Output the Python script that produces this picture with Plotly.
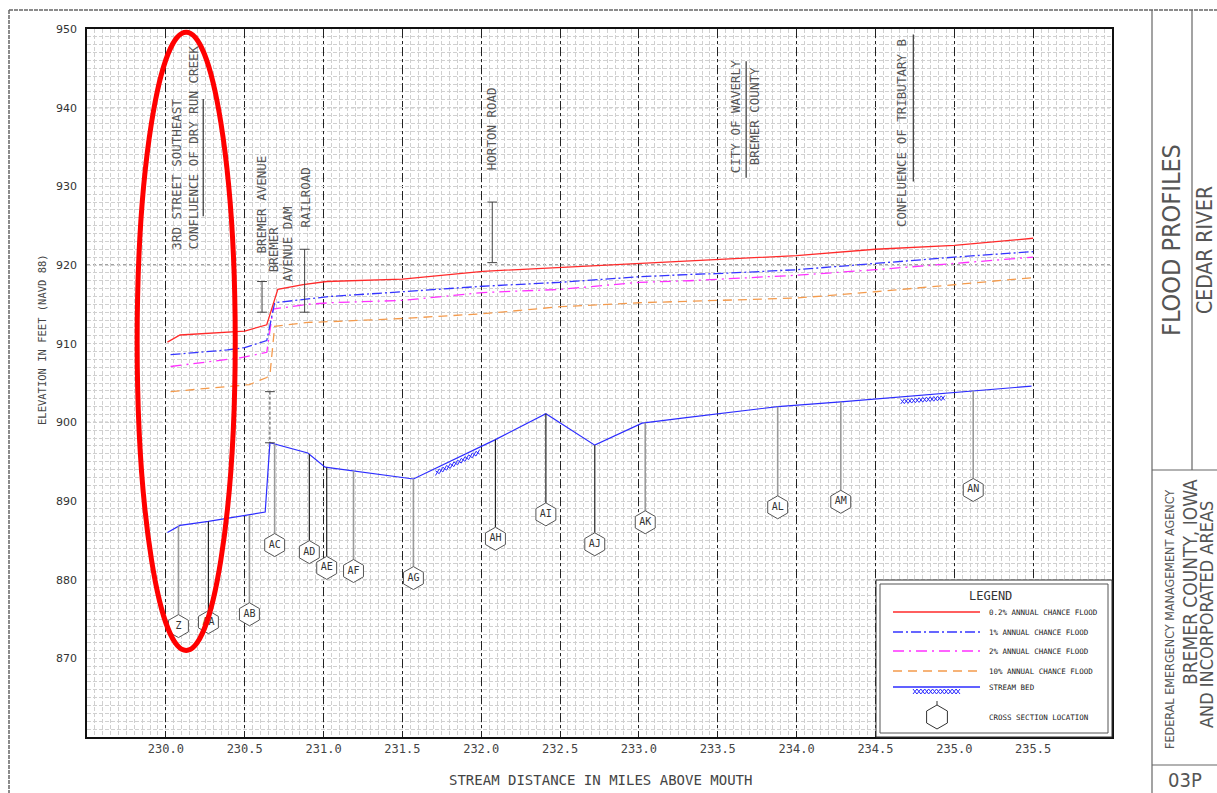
import numpy as np
import plotly.graph_objects as go

# ---------------- data ----------------
x_tick_vals = [230.0, 230.5, 231.0, 231.5, 232.0, 232.5, 233.0, 233.5, 234.0, 234.5, 235.0, 235.5]
x_tick_text = ["230.0", "230.5", "231.0", "231.5", "232.0", "232.5", "233.0", "233.5", "234.0", "234.5", "235.0", "235.5"]
y_tick_vals = [870, 880, 890, 900, 910, 920, 930, 940, 950]

# 0.2% annual chance flood
f02_x = [230.01, 230.09, 230.50, 230.64, 230.71, 230.87, 231.02, 231.50, 232.01, 232.50, 233.00, 233.32, 233.49, 234.00, 234.50, 235.00, 235.50]
f02_y = [910.2, 911.1, 911.6, 912.4, 916.9, 917.5, 917.9, 918.2, 919.2, 919.7, 920.2, 920.5, 920.7, 921.2, 922.0, 922.5, 923.4]
# 1% annual chance flood
f1_x = [230.03, 230.39, 230.50, 230.64, 230.69, 230.90, 231.04, 231.50, 232.01, 232.50, 233.00, 233.32, 233.49, 234.00, 234.50, 235.00, 235.50]
f1_y = [908.6, 909.2, 909.5, 910.4, 915.2, 915.7, 916.0, 916.6, 917.3, 917.8, 918.5, 918.8, 918.9, 919.4, 920.2, 921.0, 921.7]
# 2% annual chance flood
f2_x = [230.03, 230.47, 230.64, 230.68, 230.90, 231.04, 231.50, 232.01, 232.50, 233.00, 233.32, 234.00, 234.50, 235.00, 235.50]
f2_y = [907.1, 908.2, 908.9, 914.4, 915.0, 915.2, 915.5, 916.5, 916.9, 917.8, 918.0, 918.7, 919.4, 920.2, 921.0]
# 10% annual chance flood
f10_x = [230.03, 230.53, 230.64, 230.66, 230.69, 230.90, 231.04, 231.50, 232.01, 232.50, 233.00, 233.32, 234.00, 234.50, 235.00, 235.50]
f10_y = [903.9, 904.8, 905.7, 906.0, 912.2, 912.7, 912.8, 913.2, 913.8, 914.7, 915.2, 915.4, 915.8, 916.6, 917.5, 918.4]
# stream bed
bed_x = [230.01, 230.09, 230.27, 230.53, 230.63, 230.66, 230.90, 231.01, 231.19, 231.57, 232.09, 232.41, 232.72, 233.02, 233.30, 233.55, 233.88, 234.28, 235.12, 235.49]
bed_y = [886.0, 886.9, 887.4, 888.2, 888.6, 897.4, 896.1, 894.3, 893.8, 892.8, 897.8, 901.1, 897.1, 899.9, 900.6, 901.2, 902.0, 902.6, 904.0, 904.6]
# hatched reaches of the stream bed
hatch_start = [231.71, 234.66]
hatch_end = [231.99, 234.94]

# cross sections
xs_label = ["Z", "AA", "AB", "AC", "AD", "AE", "AF", "AG", "AH", "AI", "AJ", "AK", "AL", "AM", "AN"]
xs_mile = [230.08, 230.27, 230.53, 230.69, 230.91, 231.02, 231.19, 231.57, 232.09, 232.41, 232.72, 233.04, 233.88, 234.28, 235.12]
xs_symbol_elev = [874.1, 874.6, 875.6, 884.4, 883.5, 881.5, 881.1, 880.2, 885.2, 888.3, 884.5, 887.3, 889.2, 889.9, 891.4]
xs_dark = ["AA", "AD", "AE", "AH", "AI", "AJ"]

# structures (bridge / dam brackets)
struct_name = ["Bremer Avenue", "Bremer Avenue Dam", "Railroad", "Horton Road"]
struct_mile = [230.61, 230.66, 230.88, 232.07]
struct_top = [917.9, 903.9, 922.0, 928.0]
struct_bottom = [914.0, 897.4, 914.0, 920.3]

# profile labels
label_text = ["3RD STREET SOUTHEAST", "CONFLUENCE OF DRY RUN CREEK", "BREMER AVENUE", "BREMER",
              "AVENUE DAM", "RAILROAD", "HORTON ROAD", "CITY OF WAVERLY", "BREMER COUNTY",
              "CONFLUENCE OF TRIBUTARY B"]
label_mile = [230.065, 230.173, 230.604, 230.68, 230.77, 230.883, 232.07, 233.61, 233.73, 234.67]
label_elev = [931.5, 935.0, 927.7, 922.0, 922.6, 928.6, 937.3, 938.8, 938.9, 936.8]
underline_mile = [230.237, 233.68, 234.74]
underline_top = [941.1, 945.9, 949.3]
underline_bottom = [926.2, 931.1, 930.6]

legend_items = ["0.2% ANNUAL CHANCE FLOOD", "1% ANNUAL CHANCE FLOOD", "2% ANNUAL CHANCE FLOOD",
                "10% ANNUAL CHANCE FLOOD", "STREAM BED", "CROSS SECTION LOCATION"]

# ---------------- styling helpers ----------------
L, R, T, B = 87, 1112, 29, 737
W, H = 1217, 793


def px(x):
    return (x - L) / (R - L)


def py(y):
    return (B - y) / (B - T)


MONO = "DejaVu Sans Mono"
NARROW = "Liberation Sans Narrow, DejaVu Sans Condensed, DejaVu Sans"
RED = "#ff2a2a"
BLUE = "#3434ff"
MAG = "#ff30ff"
ORA = "#f39a4c"
BED = "#2c2cff"
GREY_TXT = "#555555"

fig = go.Figure()

# flood profiles
fig.add_trace(go.Scatter(x=f10_x, y=f10_y, mode="lines", line=dict(color=ORA, width=1.3, dash="9px,6px"), hoverinfo="skip"))
fig.add_trace(go.Scatter(x=f2_x, y=f2_y, mode="lines", line=dict(color=MAG, width=1.3, dash="11px,5px,2px,5px"), hoverinfo="skip"))
fig.add_trace(go.Scatter(x=f1_x, y=f1_y, mode="lines", line=dict(color=BLUE, width=1.3, dash="10px,3px,2px,3px"), hoverinfo="skip"))
fig.add_trace(go.Scatter(x=f02_x, y=f02_y, mode="lines", line=dict(color=RED, width=1.3), hoverinfo="skip"))

# stream bed
fig.add_trace(go.Scatter(x=bed_x, y=bed_y, mode="lines", line=dict(color=BED, width=1.2), hoverinfo="skip"))

# hatch on the stream bed
for a, b in zip(hatch_start, hatch_end):
    hx = np.linspace(a, b, 13)
    base = np.interp(hx, bed_x, bed_y)
    k = np.arange(len(hx)) % 2
    for phase in (0, 1):
        hy = base - 0.3 - 0.6 * ((k + phase) % 2)
        fig.add_trace(go.Scatter(x=hx, y=hy, mode="lines", line=dict(color=BED, width=1), hoverinfo="skip"))

# cross-section leader lines
hex_half = 1.45
for dark in (False, True):
    lx, ly = [], []
    for lab, xm, ye in zip(xs_label, xs_mile, xs_symbol_elev):
        if (lab in xs_dark) != dark:
            continue
        top = float(np.interp(xm, bed_x, bed_y))
        lx += [xm, xm, None]
        ly += [top, ye + hex_half, None]
    fig.add_trace(go.Scatter(x=lx, y=ly, mode="lines",
                             line=dict(color="#222222" if dark else "#9a9a9a", width=1.2 if dark else 1.6),
                             hoverinfo="skip"))

# cross-section hexagons
fig.add_trace(go.Scatter(x=xs_mile, y=xs_symbol_elev, mode="markers+text", text=xs_label,
                         textposition="middle center",
                         textfont=dict(family=MONO, size=10, color="#333333"),
                         marker=dict(symbol="hexagon", size=23, color="white",
                                     line=dict(color="#555555", width=1)),
                         hoverinfo="skip"))

# structure brackets
for nm, xm, t, bt in zip(struct_name, struct_mile, struct_top, struct_bottom):
    fig.add_trace(go.Scatter(x=[xm, xm], y=[t, bt], mode="lines+markers",
                             line=dict(color="#444444", width=1, dash="3px,2px" if "Dam" in nm else "solid"),
                             marker=dict(symbol="line-ew-open", size=7, line=dict(color="#444444", width=1)),
                             hoverinfo="skip"))

# underlines of labels
for xm, t, bt in zip(underline_mile, underline_top, underline_bottom):
    fig.add_trace(go.Scatter(x=[xm, xm], y=[t, bt], mode="lines", line=dict(color="#333333", width=1.2),
                             hoverinfo="skip"))

annotations = []
for txt, xm, ye in zip(label_text, label_mile, label_elev):
    annotations.append(dict(x=xm, y=ye, xref="x", yref="y", text=txt, showarrow=False, textangle=-90,
                            xanchor="center", yanchor="middle",
                            font=dict(family=MONO, size=12.5, color=GREY_TXT)))


def pannot(txt, xx, yy, size, family=MONO, color="#444444", angle=0, xanchor="center"):
    annotations.append(dict(x=px(xx), y=py(yy), xref="paper", yref="paper", text=txt, showarrow=False,
                            textangle=angle, xanchor=xanchor, yanchor="middle",
                            font=dict(family=family, size=size, color=color)))


# axis titles
pannot("ELEVATION IN FEET (NAVD 88)", 42, 340, 10.5, angle=-90)
pannot("STREAM DISTANCE IN MILES ABOVE MOUTH", 600, 780, 14)

# legend
shapes = []
shapes.append(dict(type="rect", xref="paper", yref="paper", x0=px(876), x1=px(1112), y0=py(737), y1=py(580),
                   line=dict(color="#333333", width=1), fillcolor="white", layer="above"))
shapes.append(dict(type="rect", xref="paper", yref="paper", x0=px(880), x1=px(1108), y0=py(733), y1=py(584),
                   line=dict(color="#555555", width=1), layer="above"))
pannot("LEGEND", 990, 596, 12, color="#333333")
leg_rows = [612, 632, 651, 671, 687, 717]
leg_styles = [(RED, "solid"), (BLUE, "10px,3px,2px,3px"), (MAG, "11px,5px,2px,5px"), (ORA, "9px,6px"), (BED, "solid")]
for (col, dsh), yy in zip(leg_styles, leg_rows):
    shapes.append(dict(type="line", xref="paper", yref="paper", x0=px(893), x1=px(980), y0=py(yy), y1=py(yy),
                       line=dict(color=col, width=1.3, dash=dsh), layer="above"))
for txt, yy in zip(legend_items, leg_rows):
    pannot(txt, 987, yy, 7.5, color="#222222", xanchor="left")
# legend hatch
for phase in (0, 1):
    pts = []
    for i, xx in enumerate(np.linspace(913, 960, 13)):
        yy = 689 + 5 * ((i + phase) % 2)
        pts.append(("M" if i == 0 else "L") + f"{px(xx):.5f},{py(yy):.5f}")
    shapes.append(dict(type="path", xref="paper", yref="paper", path=" ".join(pts),
                       line=dict(color=BED, width=1), layer="above"))
# legend hexagon
cx, cy, rr = 937, 717, 12
rs = rr * 0.866
hp = [(cx, cy - rr), (cx + rs, cy - rr / 2), (cx + rs, cy + rr / 2), (cx, cy + rr), (cx - rs, cy + rr / 2), (cx - rs, cy - rr / 2)]
path = "M" + " L".join(f"{px(a):.5f},{py(b):.5f}" for a, b in hp) + " Z"
shapes.append(dict(type="path", xref="paper", yref="paper", path=path, line=dict(color="#333333", width=1), layer="above"))
shapes.append(dict(type="line", xref="paper", yref="paper", x0=px(cx), x1=px(cx), y0=py(cy - rr), y1=py(cy - rr - 4),
                   line=dict(color="#333333", width=1), layer="above"))

# darker horizontal grid every 20 ft
for yv in (880, 900, 920, 940):
    shapes.append(dict(type="line", xref="paper", yref="y", x0=0, x1=1, y0=yv, y1=yv,
                       line=dict(color="#444444", width=1, dash="3px,3px"), layer="below"))

# red highlight ellipse
shapes.append(dict(type="circle", xref="x", yref="y", x0=229.818, x1=230.44, y0=871.0, y1=949.6,
                   line=dict(color="#ff0000", width=5), layer="above"))

# drawing frame and title block
frame_col = "#666666"


def pline(x0, y0, x1, y1, dash="solid", width=1.2):
    shapes.append(dict(type="line", xref="paper", yref="paper", x0=px(x0), x1=px(x1), y0=py(y0), y1=py(y1),
                       line=dict(color=frame_col, width=width, dash=dash), layer="above"))


pline(9, 10, 9, 793, dash="4px,1px", width=1.5)
pline(9, 10, 1217, 10, dash="4px,1px", width=1.5)
pline(1152, 10, 1152, 793)
pline(1192, 10, 1192, 470)
pline(1152, 470, 1217, 470)
pline(1152, 765, 1217, 765)

pannot("FLOOD PROFILES", 1172, 240, 25, family=NARROW, color=GREY_TXT, angle=-90)
pannot("CEDAR RIVER", 1205, 250, 21, family=NARROW, color=GREY_TXT, angle=-90)
pannot("FEDERAL EMERGENCY MANAGEMENT AGENCY", 1169, 620, 12.5, family=NARROW, color=GREY_TXT, angle=-90)
pannot("BREMER COUNTY, IOWA", 1190, 582, 19, family=NARROW, color=GREY_TXT, angle=-90)
pannot("AND INCORPORATED AREAS", 1206, 615, 18, family=NARROW, color=GREY_TXT, angle=-90)
pannot("03P", 1185, 780, 20, family=NARROW, color=GREY_TXT)

grid_minor = dict(showgrid=True, gridcolor="#d0d0d0", griddash="4px,2px", gridwidth=1)

fig.update_layout(
    width=W, height=H,
    margin=dict(l=L, r=W - R, t=T, b=H - B, pad=0, autoexpand=False),
    paper_bgcolor="white", plot_bgcolor="white",
    showlegend=False,
    xaxis=dict(range=[229.5, 236.0], tickmode="array", tickvals=x_tick_vals, ticktext=x_tick_text,
               showgrid=True, gridcolor="#222222", griddash="dashdot", gridwidth=1,
               minor=dict(tickmode="linear", tick0=229.5, dtick=0.05, **grid_minor),
               showline=True, mirror=True, linecolor="#111111", linewidth=1.5, ticks="", zeroline=False,
               automargin=False,
               tickfont=dict(family=MONO, size=12, color="#444444")),
    yaxis=dict(range=[860, 950], tickmode="array", tickvals=y_tick_vals,
               showgrid=True, gridcolor="#d0d0d0", griddash="4px,2px",
               minor=dict(tickmode="linear", tick0=860, dtick=1, **grid_minor),
               showline=True, mirror=True, linecolor="#111111", linewidth=1.5, ticks="", zeroline=False,
               automargin=False,
               tickfont=dict(family="DejaVu Sans", size=11, color="#333333"), ticklabelstandoff=6),
    yaxis2=dict(range=[860, 950], overlaying="y", side="right", tickmode="array", tickvals=y_tick_vals,
                showgrid=False, zeroline=False, ticks="", showline=False, automargin=False,
                tickfont=dict(family="DejaVu Sans", size=11, color="#333333"), ticklabelstandoff=6),
    shapes=shapes,
    annotations=annotations,
)

fig.write_html("out.html", config={"displayModeBar": False},
               post_script="document.body.style.margin='0';document.body.style.overflow='hidden';")
